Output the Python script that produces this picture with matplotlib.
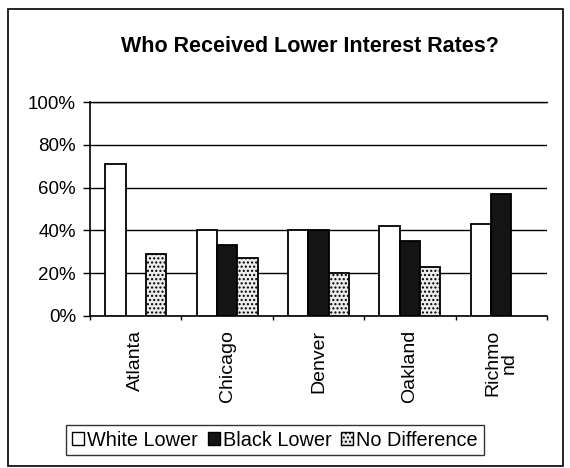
import matplotlib
matplotlib.use("Agg")
import matplotlib.pyplot as plt
import numpy as np
from matplotlib.patches import Rectangle, Patch

plt.rcParams['font.family'] = ['Liberation Sans', 'DejaVu Sans']
plt.rcParams['hatch.color'] = '#a8a8a8'

cities = ["Atlanta", "Chicago", "Denver", "Oakland", "Richmo\nnd"]
series_names = ["White Lower", "Black Lower", "No Difference"]
white_lower = [71, 40, 40, 42, 43]
black_lower = [0, 33, 40, 35, 57]
no_difference = [29, 27, 20, 23, 0]
yticks = [0, 20, 40, 60, 80, 100]
ytick_labels = ["0%", "20%", "40%", "60%", "80%", "100%"]
title = "Who Received Lower Interest Rates?"

fig = plt.figure(figsize=(5.70, 4.68), dpi=100)
ax = fig.add_axes([90/570, 1-316/468, 457/570, (316-102)/468])

x = np.arange(len(cities))
w = 0.222
colors = ["white", "#141414", "#ececec"]
hatches = [None, None, "...."]
for i, (vals, c, h) in enumerate(zip([white_lower, black_lower, no_difference], colors, hatches)):
    v = np.array(vals, dtype=float)
    mask = v > 0
    ax.bar(x[mask] + (i - 1) * w, v[mask], width=w, color=c, edgecolor="black",
           linewidth=1.3, hatch=h, zorder=3)

ax.set_xlim(-0.5, len(cities) - 0.5)
ax.set_ylim(0, 100)
ax.set_yticks(yticks)
ax.set_yticklabels(ytick_labels, fontsize=13.5)
ax.yaxis.grid(True, color="black", linewidth=1.0, zorder=0)
ax.set_axisbelow(True)

ax.set_xticks(x)
ax.set_xticklabels(cities, rotation=90, fontsize=14, va="top", ha="center", linespacing=0.95)
ax.tick_params(axis="x", length=0, pad=10)
ax.set_xticks(np.arange(len(cities) + 1) - 0.5, minor=True)
ax.tick_params(axis="x", which="minor", length=3, direction="out", width=1)
ax.tick_params(axis="y", length=5, direction="out", width=1, pad=5)

ax.spines["right"].set_visible(False)
ax.spines["top"].set_linewidth(1.0)
ax.spines["left"].set_linewidth(1.2)
ax.spines["bottom"].set_linewidth(1.2)

fig.text(310/570, 1-47/468, title, ha="center", va="center", fontsize=15.5, fontweight="bold")

# outer chart frame
fig.patches.append(Rectangle((8/570, 1-466/468), (563-8)/570, (466-9)/468,
                             transform=fig.transFigure, fill=False, edgecolor="black", linewidth=1.2))

handles = [Patch(facecolor=c, edgecolor="black", hatch=h, linewidth=1.0) for c, h in zip(colors, hatches)]
leg = fig.legend(handles, series_names, loc="center", bbox_to_anchor=(275/570, 1-440/468),
                 ncol=3, frameon=True, fontsize=14.3, handlelength=0.6, handleheight=0.6,
                 handletextpad=0.15, columnspacing=0.5, borderpad=0.3, fancybox=False)
leg.get_frame().set_edgecolor("black")
leg.get_frame().set_linewidth(1.0)

fig.savefig("out.png", dpi=100)
